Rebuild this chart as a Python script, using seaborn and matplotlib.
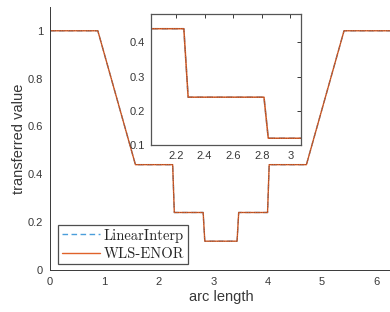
import numpy as np
import pandas as pd
import matplotlib
matplotlib.use('Agg')
import matplotlib.pyplot as plt
import seaborn as sns

# Pontos de quebra da curva (comprimento de arco x valor transferido)
arc = [0.0, 0.88, 1.571, 2.255, 2.285, 2.815, 2.845, 3.438, 3.468, 3.998, 4.028, 4.712, 5.403, 6.2832]
val_linear = [1.0, 1.0, 0.44, 0.44, 0.24, 0.24, 0.12, 0.12, 0.24, 0.24, 0.44, 0.44, 1.0, 1.0]
val_wls = [1.0, 1.0, 0.44, 0.44, 0.24, 0.24, 0.12, 0.12, 0.24, 0.24, 0.44, 0.44, 1.0, 1.0]

xticks_main = [0, 1, 2, 3, 4, 5, 6]
yticks_main = [0, 0.2, 0.4, 0.6, 0.8, 1]
xticks_inset = [2.2, 2.4, 2.6, 2.8, 3]
yticks_inset = [0.1, 0.2, 0.3, 0.4]

df = pd.DataFrame({'arc': arc, 'lin': val_linear, 'wls': val_wls})

sns.set_theme(style='white')
plt.rcParams['font.family'] = ['Liberation Sans', 'DejaVu Sans']
plt.rcParams['xtick.direction'] = 'in'
plt.rcParams['ytick.direction'] = 'in'

cor_tick = '#383838'
azul = '#4a9edb'
laranja = '#e0622a'

fig = plt.figure(figsize=(3.9, 3.12), dpi=100)
ax = fig.add_axes([0.128, 0.135, 0.877, 0.843])


def desenha(a, lw_main=1.0, legenda=True):
    sns.lineplot(data=df, x='arc', y='lin', ax=a, color=azul, lw=lw_main,
                 linestyle=(0, (4, 2.5)), label='LinearInterp' if legenda else None,
                 estimator=None, sort=False)
    sns.lineplot(data=df, x='arc', y='wls', ax=a, color=laranja, lw=lw_main,
                 label='WLS-ENOR' if legenda else None, estimator=None, sort=False)
    sns.lineplot(data=df, x='arc', y='wls', ax=a, color='#222222', lw=0.5, alpha=0.6,
                 linestyle=(0, (1, 1.5)), estimator=None, sort=False)


desenha(ax)
ax.set_xlim(0, 2 * np.pi)
ax.set_ylim(0, 1.1)
ax.set_xticks(xticks_main)
ax.set_yticks(yticks_main)
ax.set_xticklabels([str(t) for t in xticks_main])
ax.set_yticklabels(['0', '0.2', '0.4', '0.6', '0.8', '1'])
ax.tick_params(labelsize=8, colors=cor_tick, length=3, width=0.7, pad=5)
for lado in ['top', 'right']:
    ax.spines[lado].set_visible(False)
for lado in ['left', 'bottom']:
    ax.spines[lado].set_color(cor_tick)
    ax.spines[lado].set_linewidth(0.7)
ax.set_xlabel('arc length', fontsize=10.5, color=cor_tick, labelpad=2)
ax.set_ylabel('transferred value', fontsize=10.5, color=cor_tick, labelpad=1.5)

leg = ax.legend(loc='lower left', bbox_to_anchor=(0.015, 0.01), prop={'family': 'cmr10', 'size': 10.5},
                frameon=True, fancybox=False, handlelength=2.6, handletextpad=0.3,
                borderpad=0.25, labelspacing=0.3, borderaxespad=0.2)
leg.get_frame().set_edgecolor('#222222')
leg.get_frame().set_linewidth(0.9)

# Gráfico ampliado (inset)
axin = fig.add_axes([0.387, 0.535, 0.386, 0.419])
desenha(axin, lw_main=1.1, legenda=False)
axin.set_xlim(2.025, 3.077)
axin.set_ylim(0.1, 0.482)
axin.set_xticks(xticks_inset)
axin.set_yticks(yticks_inset)
axin.set_xticklabels([str(t) for t in xticks_inset])
axin.set_yticklabels([str(t) for t in yticks_inset])
axin.tick_params(labelsize=8, colors=cor_tick, length=3, width=0.7, pad=4,
                 top=True, right=True)
for lado in axin.spines.values():
    lado.set_color('#555555')
    lado.set_linewidth(0.9)
axin.set_xlabel('')
axin.set_ylabel('')

fig.savefig('out.png', dpi=100)
